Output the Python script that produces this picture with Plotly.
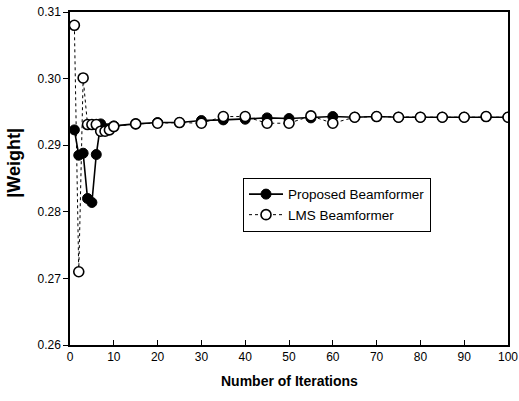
import plotly.graph_objects as go

iterations = [1, 2, 3, 4, 5, 6, 7, 8, 9, 10, 15, 20, 25, 30, 35, 40, 45, 50,
              55, 60, 65, 70, 75, 80, 85, 90, 95, 100]
proposed = [0.2923, 0.2885, 0.2888, 0.2820, 0.2814, 0.2886, 0.2932, 0.2925,
            0.2925, 0.2929, 0.2932, 0.2934, 0.2934, 0.2937, 0.2938, 0.2939,
            0.2941, 0.2940, 0.2941, 0.2943, 0.2942, 0.2943, 0.2942, 0.2942,
            0.2942, 0.2942, 0.2943, 0.2942]
lms = [0.3080, 0.2710, 0.3001, 0.2931, 0.2931, 0.2931, 0.2921, 0.2921,
       0.2923, 0.2928, 0.2932, 0.2933, 0.2934, 0.2933, 0.2943, 0.2943,
       0.2933, 0.2933, 0.2944, 0.2933, 0.2942, 0.2943, 0.2942, 0.2942,
       0.2942, 0.2942, 0.2943, 0.2942]
x_ticks = [0, 10, 20, 30, 40, 50, 60, 70, 80, 90, 100]
y_ticks = [0.26, 0.27, 0.28, 0.29, 0.30, 0.31]
y_tick_text = ["0.26", "0.27", "0.28", "0.29", "0.30", "0.31"]

font = "Liberation Sans, Arial, sans-serif"

fig = go.Figure()
fig.add_trace(go.Scatter(
    x=iterations, y=proposed, name="Proposed Beamformer", mode="lines+markers",
    line=dict(color="black", width=1.6),
    marker=dict(symbol="circle", size=10, color="black",
                line=dict(color="black", width=1))))
fig.add_trace(go.Scatter(
    x=iterations, y=lms, name="LMS Beamformer", mode="lines+markers",
    line=dict(color="black", width=1, dash="dot"),
    marker=dict(symbol="circle", size=10, color="white",
                line=dict(color="black", width=1.6))))

fig.update_layout(
    width=519, height=401,
    margin=dict(l=70, r=11, t=12, b=56, autoexpand=False),
    paper_bgcolor="white", plot_bgcolor="white",
    font=dict(family=font, size=12, color="black"),
    showlegend=True,
    legend=dict(x=0.395, y=0.502, xanchor="left", yanchor="top",
                bgcolor="white", bordercolor="black", borderwidth=1,
                font=dict(size=13.5), tracegroupgap=0, itemwidth=34),
    xaxis=dict(range=[0, 100], tickvals=x_ticks, ticks="inside", ticklen=5,
               tickcolor="black", showline=True, linecolor="black", linewidth=1.5,
               mirror=True, showgrid=False, zeroline=False, automargin=False),
    yaxis=dict(range=[0.26, 0.31], tickvals=y_ticks, ticktext=y_tick_text,
               ticks="outside", ticklen=5, tickcolor="black",
               showline=True, linecolor="black", linewidth=1.5, mirror=True,
               showgrid=False, zeroline=False, automargin=False),
    annotations=[
        dict(text="<b>Number of Iterations</b>", xref="paper", yref="paper",
             x=0.5, y=-0.108, xanchor="center", yanchor="middle",
             showarrow=False, font=dict(size=14)),
        dict(text="<b>|Weight|</b>", xref="paper", yref="paper",
             x=-0.128, y=0.547, xanchor="center", yanchor="middle",
             textangle=-90, showarrow=False, font=dict(size=18)),
    ],
)

fig.write_html("out.html", config={"displayModeBar": False},
               post_script="document.body.style.margin='0';"
                           "document.body.style.overflow='hidden';")
